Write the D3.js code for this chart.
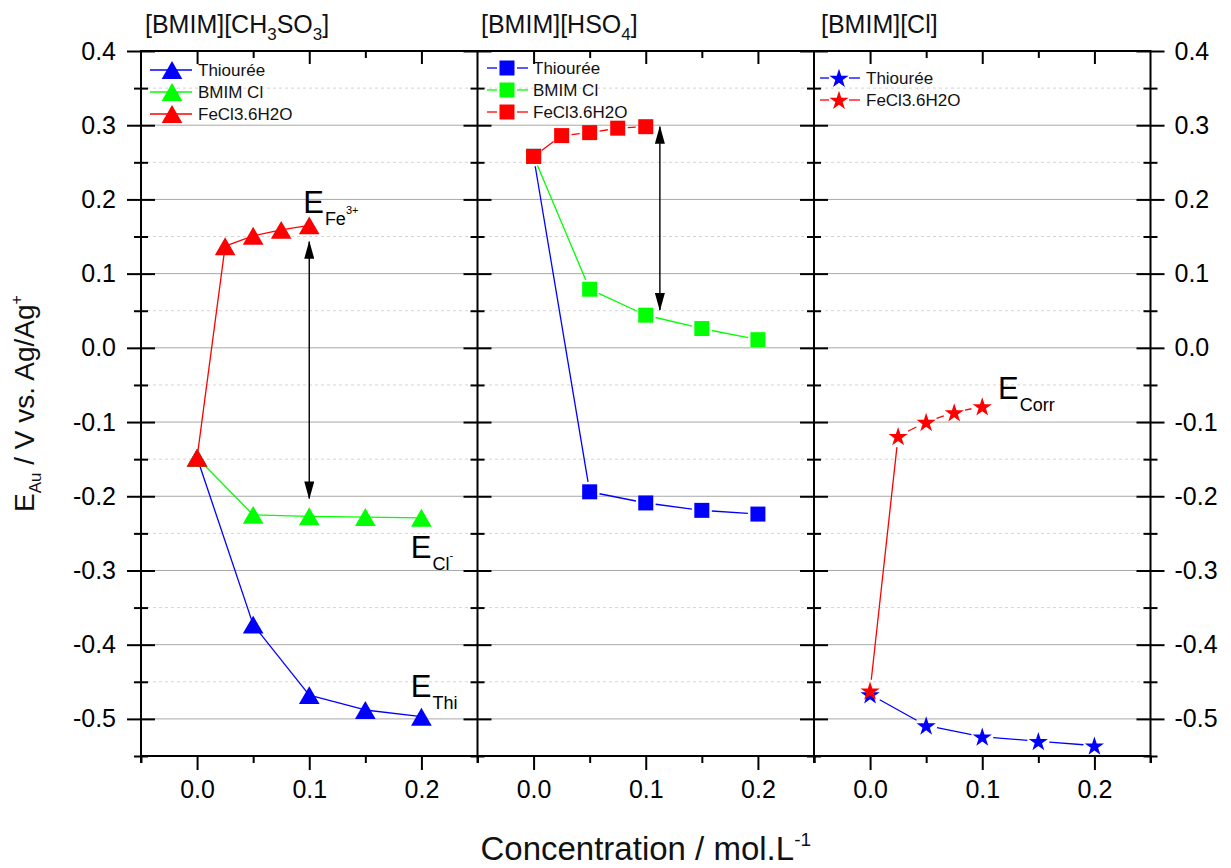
<!DOCTYPE html>
<html><head><meta charset="utf-8">
<script src="https://cdn.jsdelivr.net/npm/d3@7"></script>
<style>
body{margin:0;background:#fff}
svg{display:block;font-family:"Liberation Sans",Arial,sans-serif}
</style>
</head><body>
<svg id="c" width="1231" height="868"></svg>
<script>
// ---------------- DATA ----------------
const xDomain = [-0.05, 0.25];
const yDomain = [-0.55, 0.4];
const xTickValues = [0.0, 0.1, 0.2];
const xMinorTicks = [-0.05, 0.05, 0.15, 0.25];
const yTickValues = [-0.5, -0.4, -0.3, -0.2, -0.1, 0.0, 0.1, 0.2, 0.3, 0.4];
const yMinorTicks = [-0.55, -0.45, -0.35, -0.25, -0.15, -0.05, 0.05, 0.15, 0.25, 0.35];
const seriesNames = ["Thiourée", "BMIM Cl", "FeCl3.6H2O"];

// Panel 1 : [BMIM][CH3SO3] (triangles)
const p1ThioX = [0, 0.05, 0.1, 0.15, 0.2];
const p1ThioY = [-0.148, -0.373, -0.468, -0.488, -0.497];
const p1ClX   = [0, 0.05, 0.1, 0.15, 0.2];
const p1ClY   = [-0.148, -0.225, -0.227, -0.228, -0.229];
const p1FeX   = [0, 0.025, 0.05, 0.075, 0.1];
const p1FeY   = [-0.148, 0.137, 0.151, 0.159, 0.165];

// Panel 2 : [BMIM][HSO4] (squares)
const p2ThioX = [0, 0.05, 0.1, 0.15, 0.2];
const p2ThioY = [0.258, -0.194, -0.209, -0.219, -0.224];
const p2ClX   = [0, 0.05, 0.1, 0.15, 0.2];
const p2ClY   = [0.258, 0.079, 0.044, 0.026, 0.011];
const p2FeX   = [0, 0.025, 0.05, 0.075, 0.1];
const p2FeY   = [0.258, 0.286, 0.290, 0.296, 0.298];

// Panel 3 : [BMIM][Cl] (stars)
const p3ThioX = [0, 0.05, 0.1, 0.15, 0.2];
const p3ThioY = [-0.467, -0.509, -0.524, -0.530, -0.536];
const p3FeX   = [0, 0.025, 0.05, 0.075, 0.1];
const p3FeY   = [-0.462, -0.119, -0.100, -0.087, -0.079];

// double arrows
const arrowPanel = [0, 1];
const arrowX     = [0.1, 0.1126];
const arrowY1    = [0.143, 0.298];
const arrowY2    = [-0.203, 0.051];

// ---------------- LAYOUT ----------------
const PL = 141, PT = 51, PB = 756, panelW = 336.5;
const blue = "#0000ff", green = "#00ff00", red = "#ff0000";
const svg = d3.select("#c");

const y = d3.scaleLinear().domain(yDomain).range([PB, PT]);
const xs = [0,1,2].map(i => d3.scaleLinear().domain(xDomain).range([PL + i*panelW, PL + (i+1)*panelW]));
const PR = PL + 3*panelW;
const fmt1 = d => d.toFixed(1);

// grid lines
const grid = svg.append("g");
grid.selectAll("line.maj").data(yTickValues.filter(v => v < 0.4)).join("line")
  .attr("x1", PL).attr("x2", PR).attr("y1", d => y(d)).attr("y2", d => y(d))
  .attr("stroke", "#a8a8a8").attr("stroke-width", 1);
grid.selectAll("line.min").data(yMinorTicks.filter(v => v > -0.55)).join("line")
  .attr("x1", PL).attr("x2", PR).attr("y1", d => y(d)).attr("y2", d => y(d))
  .attr("stroke", "#d4d4d4").attr("stroke-width", 1).attr("stroke-dasharray", "3,3");

function styleAxis(g, fs) {
  g.select(".domain").remove();
  g.selectAll("line").attr("stroke", "#000").attr("stroke-width", 2);
  g.attr("font-family", "'Liberation Sans', Arial, sans-serif").attr("font-size", fs).attr("fill", "#000");
  g.selectAll("text").attr("fill", "#000");
}

// horizontal axes
xs.forEach(x => {
  svg.append("g").attr("transform", `translate(0,${PB})`)
    .call(d3.axisBottom(x).tickValues(xTickValues).tickSize(14).tickPadding(10).tickFormat(fmt1))
    .call(g => styleAxis(g, 25));
  svg.append("g").attr("transform", `translate(0,${PB})`)
    .call(d3.axisBottom(x).tickValues(xMinorTicks).tickSize(7).tickFormat(""))
    .call(g => styleAxis(g, 25));
  svg.append("g").attr("transform", `translate(0,${PT})`)
    .call(d3.axisBottom(x).tickValues(xTickValues).tickSize(13).tickFormat(""))
    .call(g => styleAxis(g, 25));
  svg.append("g").attr("transform", `translate(0,${PT})`)
    .call(d3.axisBottom(x).tickValues(xMinorTicks.slice(1, 3)).tickSize(7).tickFormat(""))
    .call(g => styleAxis(g, 25));
});

// vertical axes (crossing ticks)
for (let i = 0; i <= 3; i++) {
  const xp = PL + i*panelW;
  svg.append("g").attr("transform", `translate(${xp},0)`)
    .call(d3.axisLeft(y).tickValues(yTickValues).tickSize(14).tickPadding(11).tickFormat(i === 0 ? fmt1 : ""))
    .call(g => styleAxis(g, 25));
  svg.append("g").attr("transform", `translate(${xp},0)`)
    .call(d3.axisRight(y).tickValues(yTickValues).tickSize(14).tickPadding(10).tickFormat(i === 3 ? fmt1 : ""))
    .call(g => styleAxis(g, 25));
  svg.append("g").attr("transform", `translate(${xp},0)`)
    .call(d3.axisLeft(y).tickValues(yMinorTicks).tickSize(7).tickFormat(""))
    .call(g => styleAxis(g, 25));
  svg.append("g").attr("transform", `translate(${xp},0)`)
    .call(d3.axisRight(y).tickValues(yMinorTicks).tickSize(7).tickFormat(""))
    .call(g => styleAxis(g, 25));
  svg.append("line").attr("x1", xp).attr("x2", xp).attr("y1", PT).attr("y2", PB + 7)
    .attr("stroke", "#000").attr("stroke-width", 2);
}
svg.append("line").attr("x1", PL - 1).attr("x2", PR + 1).attr("y1", PT).attr("y2", PT).attr("stroke", "#000").attr("stroke-width", 2);
svg.append("line").attr("x1", PL - 1).attr("x2", PR + 1).attr("y1", PB).attr("y2", PB).attr("stroke", "#000").attr("stroke-width", 2);

// ---------------- SERIES ----------------
const symbols = {
  tri: d3.symbol().type(d3.symbolTriangle).size(185),
  sq: d3.symbol().type(d3.symbolSquare).size(225),
  star: d3.symbol().type(d3.symbolStar).size(115)
};
const symOffset = { tri: 3, sq: 0, star: 0.9 };

const series = [
  {p:0, xv:p1ThioX, yv:p1ThioY, c:blue,  s:"tri", gap:0},
  {p:0, xv:p1ClX,   yv:p1ClY,   c:green, s:"tri", gap:0},
  {p:0, xv:p1FeX,   yv:p1FeY,   c:red,   s:"tri", gap:0},
  {p:1, xv:p2ThioX, yv:p2ThioY, c:blue,  s:"sq",  gap:10},
  {p:1, xv:p2ClX,   yv:p2ClY,   c:green, s:"sq",  gap:10},
  {p:1, xv:p2FeX,   yv:p2FeY,   c:red,   s:"sq",  gap:10},
  {p:2, xv:p3ThioX, yv:p3ThioY, c:blue,  s:"star",gap:11},
  {p:2, xv:p3FeX,   yv:p3FeY,   c:red,   s:"star",gap:11}
];

const plot = svg.append("g");
series.forEach(sr => {
  const x = xs[sr.p];
  const pts = sr.xv.map((v, i) => [x(v), y(sr.yv[i])]);
  const segs = [];
  for (let i = 0; i < pts.length - 1; i++) {
    const [ax, ay] = pts[i], [bx, by] = pts[i+1];
    const L = Math.hypot(bx - ax, by - ay);
    if (L <= 2*sr.gap) continue;
    const ux = (bx - ax)/L, uy = (by - ay)/L;
    segs.push([ax + ux*sr.gap, ay + uy*sr.gap, bx - ux*sr.gap, by - uy*sr.gap]);
  }
  plot.append("g").selectAll("line").data(segs).join("line")
    .attr("x1", d => d[0]).attr("y1", d => d[1]).attr("x2", d => d[2]).attr("y2", d => d[3])
    .attr("stroke", sr.c).attr("stroke-width", 1.3);
  plot.append("g").selectAll("path").data(pts).join("path")
    .attr("d", symbols[sr.s]())
    .attr("transform", d => `translate(${d[0]},${d[1] + symOffset[sr.s]})`)
    .attr("fill", sr.c);
});

// ---------------- ARROWS ----------------
const defs = svg.append("defs");
defs.append("marker").attr("id", "ah").attr("viewBox", "0 0 18 10")
  .attr("refX", 17).attr("refY", 5).attr("markerWidth", 18).attr("markerHeight", 10)
  .attr("markerUnits", "userSpaceOnUse").attr("orient", "auto-start-reverse")
  .append("path").attr("d", "M0,0 L18,5 L0,10 Z").attr("fill", "#000");
arrowPanel.forEach((p, i) => {
  svg.append("line")
    .attr("x1", xs[p](arrowX[i])).attr("x2", xs[p](arrowX[i]))
    .attr("y1", y(arrowY1[i])).attr("y2", y(arrowY2[i]))
    .attr("stroke", "#000").attr("stroke-width", 1.4)
    .attr("marker-start", "url(#ah)").attr("marker-end", "url(#ah)");
});

// ---------------- LEGENDS ----------------
const legends = [
  {rows:[[blue,"tri"],[green,"tri"],[red,"tri"]], names:[0,1,2], lx:150, mx:172, rx:192, tx:198, y0:70, gap:0},
  {rows:[[blue,"sq"],[green,"sq"],[red,"sq"]], names:[0,1,2], lx:487, mx:507, rx:528, tx:533, y0:68, gap:10},
  {rows:[[blue,"star"],[red,"star"]], names:[0,2], lx:820, mx:839, rx:860, tx:866, y0:78, gap:10}
];
legends.forEach(lg => {
  lg.rows.forEach((r, i) => {
    const yy = lg.y0 + i*22;
    const g = svg.append("g");
    if (lg.gap === 0) {
      g.append("line").attr("x1", lg.lx).attr("x2", lg.rx).attr("y1", yy).attr("y2", yy).attr("stroke", r[0]).attr("stroke-width", 1.3);
    } else {
      g.append("line").attr("x1", lg.lx).attr("x2", lg.mx - lg.gap).attr("y1", yy).attr("y2", yy).attr("stroke", r[0]).attr("stroke-width", 1.3);
      g.append("line").attr("x1", lg.mx + lg.gap).attr("x2", lg.rx).attr("y1", yy).attr("y2", yy).attr("stroke", r[0]).attr("stroke-width", 1.3);
    }
    g.append("path").attr("d", symbols[r[1]]()).attr("transform", `translate(${lg.mx},${yy + symOffset[r[1]]})`).attr("fill", r[0]);
    g.append("text").attr("x", lg.tx).attr("y", yy + 6).attr("font-size", 17).attr("fill", "#111")
      .text(seriesNames[lg.names[i]]);
  });
});

// ---------------- TITLES ----------------
function subText(sel, parts) {
  parts.forEach(pt => {
    sel.append("tspan").attr("font-size", pt.fs).attr("dy", pt.dy || 0).attr("dx", pt.dx || 0).text(pt.t);
  });
}
const t1 = svg.append("text").attr("x", 145).attr("y", 33).attr("font-size", 25).attr("fill", "#111");
subText(t1, [{t:"[BMIM][CH", fs:25}, {t:"3", fs:17, dy:7}, {t:"SO", fs:25, dy:-7}, {t:"3", fs:17, dy:7}, {t:"]", fs:25, dy:-7}]);
const t2 = svg.append("text").attr("x", 481).attr("y", 33).attr("font-size", 25).attr("fill", "#111");
subText(t2, [{t:"[BMIM][HSO", fs:25}, {t:"4", fs:17, dy:7}, {t:"]", fs:25, dy:-7}]);
svg.append("text").attr("x", 821).attr("y", 33).attr("font-size", 25).attr("fill", "#111").text("[BMIM][Cl]");

// ---------------- ANNOTATIONS ----------------
const annots = [
  {p:0, x:0.0946, y:0.182,  sub:"Fe",   sup:"3+"},
  {p:0, x:0.1905, y:-0.283, sub:"Cl",   sup:"-"},
  {p:0, x:0.1905, y:-0.4706,sub:"Thi",  sup:""},
  {p:2, x:0.114,  y:-0.069, sub:"Corr", sup:""}
];
annots.forEach(a => {
  const t = svg.append("text").attr("x", xs[a.p](a.x)).attr("y", y(a.y)).attr("fill", "#000");
  const parts = [{t:"E", fs:31}, {t:a.sub, fs:18, dy:12, dx:1}];
  if (a.sup) parts.push({t:a.sup, fs:11, dy:-11});
  subText(t, parts);
});

// ---------------- AXIS TITLES ----------------
const xt = svg.append("text").attr("x", (PL + PR)/2).attr("y", 860).attr("text-anchor", "middle").attr("fill", "#111");
subText(xt, [{t:"Concentration / mol.L", fs:33}, {t:"-1", fs:19, dy:-14}]);
const yt = svg.append("text").attr("transform", `translate(34,${(PT + PB)/2}) rotate(-90)`).attr("text-anchor", "middle").attr("fill", "#111");
subText(yt, [{t:"E", fs:28}, {t:"Au", fs:17, dy:7}, {t:" / V vs. Ag/Ag", fs:28, dy:-7}, {t:"+", fs:16, dy:-12}]);
</script>
</body></html>
